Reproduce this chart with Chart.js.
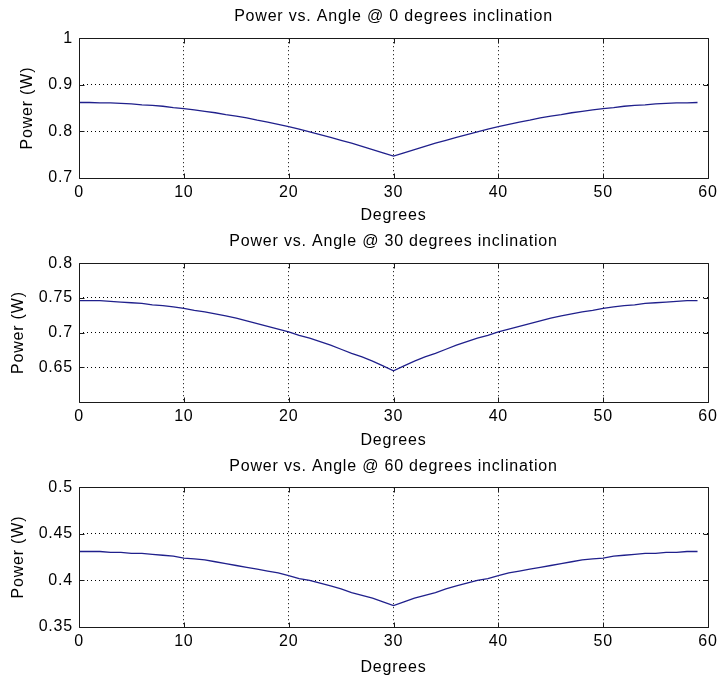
<!DOCTYPE html>
<html>
<head>
<meta charset="utf-8">
<script src="https://cdn.jsdelivr.net/npm/chart.js@4.4.1/dist/chart.umd.min.js"></script>
<style>
  html, body { margin: 0; padding: 0; background: #fff; }
  #wrap { position: relative; width: 717px; height: 677px; background: #fff; }
  canvas { position: absolute; left: 0; }
</style>
</head>
<body>
<div id="wrap">
  <canvas id="c1" width="717" height="225" style="top:0px"></canvas>
  <canvas id="c2" width="717" height="225" style="top:225px"></canvas>
  <canvas id="c3" width="717" height="227" style="top:450px"></canvas>
</div>
<script>
// angle in degrees
const degrees = [
  0, 1, 2, 3, 4, 5, 6, 7, 8, 9,
  10, 11, 12, 13, 14, 15, 16, 17, 18, 19,
  20, 21, 22, 23, 24, 25, 26, 27, 28, 29,
  30, 31, 32, 33, 34, 35, 36, 37, 38, 39,
  40, 41, 42, 43, 44, 45, 46, 47, 48, 49,
  50, 51, 52, 53, 54, 55, 56, 57, 58, 59
];

// power (W) at 0 degrees inclination
const power0 = [
  0.862, 0.862, 0.861, 0.861, 0.860, 0.859, 0.857, 0.856, 0.854, 0.851,
  0.849, 0.846, 0.843, 0.840, 0.836, 0.833, 0.829, 0.824, 0.820, 0.815,
  0.810, 0.805, 0.799, 0.793, 0.787, 0.781, 0.775, 0.768, 0.761, 0.754,
  0.747, 0.754, 0.761, 0.768, 0.775, 0.781, 0.787, 0.793, 0.799, 0.805,
  0.810, 0.815, 0.820, 0.824, 0.829, 0.833, 0.836, 0.840, 0.843, 0.846,
  0.849, 0.851, 0.854, 0.856, 0.857, 0.859, 0.860, 0.861, 0.861, 0.862
];

// power (W) at 30 degrees inclination
const power30 = [
  0.746, 0.746, 0.746, 0.745, 0.744, 0.743, 0.742, 0.740, 0.739, 0.737,
  0.735, 0.732, 0.730, 0.727, 0.724, 0.721, 0.717, 0.713, 0.709, 0.705,
  0.701, 0.696, 0.692, 0.687, 0.682, 0.676, 0.670, 0.665, 0.659, 0.652,
  0.645, 0.652, 0.659, 0.665, 0.670, 0.676, 0.682, 0.687, 0.692, 0.696,
  0.701, 0.705, 0.709, 0.713, 0.717, 0.721, 0.724, 0.727, 0.730, 0.732,
  0.735, 0.737, 0.739, 0.740, 0.742, 0.743, 0.744, 0.745, 0.746, 0.746
];

// power (W) at 60 degrees inclination
const power60 = [
  0.431, 0.431, 0.431, 0.430, 0.430, 0.429, 0.429, 0.428, 0.427, 0.426,
  0.424, 0.423, 0.422, 0.420, 0.418, 0.416, 0.414, 0.412, 0.410, 0.408,
  0.405, 0.402, 0.400, 0.397, 0.394, 0.391, 0.387, 0.384, 0.381, 0.377,
  0.373, 0.377, 0.381, 0.384, 0.387, 0.391, 0.394, 0.397, 0.400, 0.402,
  0.405, 0.408, 0.410, 0.412, 0.414, 0.416, 0.418, 0.420, 0.422, 0.423,
  0.424, 0.426, 0.427, 0.428, 0.429, 0.429, 0.430, 0.430, 0.431, 0.431
];

const xTicks = [0, 10, 20, 30, 40, 50, 60];
const yTicks0 = [0.7, 0.8, 0.9, 1];
const yTicks30 = [0.6, 0.65, 0.7, 0.75, 0.8];
const yTicks60 = [0.35, 0.4, 0.45, 0.5];

const FONT = "'Liberation Sans', Arial, sans-serif";
const LINE_COLOR = '#20208c';

// matlab look: spaced text, box round the axes, ticks pointing inward
const matlabLook = {
  id: 'matlabLook',
  beforeUpdate(chart) { chart.ctx.letterSpacing = '0.8px'; },
  beforeDraw(chart) {
    chart.ctx.letterSpacing = '0.8px';
    const ctx = chart.ctx;
    ctx.save();
    ctx.fillStyle = '#fff';
    ctx.fillRect(0, 0, chart.width, chart.height);
    ctx.restore();
  },
  afterDraw(chart) {
    const ctx = chart.ctx;
    const a = chart.chartArea;
    const L = Math.round(a.left) + 0.5, R = Math.round(a.right) + 0.5;
    const T = Math.round(a.top) + 0.5, B = Math.round(a.bottom) + 0.5;
    const len = 5;
    ctx.save();
    ctx.strokeStyle = '#1a1a1a';
    ctx.lineWidth = 1;
    ctx.beginPath();
    ctx.rect(L, T, R - L, B - T);
    const xs = chart.scales.x, ys = chart.scales.y;
    xs.ticks.forEach(t => {
      const px = Math.round(xs.getPixelForValue(t.value)) + 0.5;
      ctx.moveTo(px, B); ctx.lineTo(px, B - len);
      ctx.moveTo(px, T); ctx.lineTo(px, T + len);
    });
    ys.ticks.forEach(t => {
      const py = Math.round(ys.getPixelForValue(t.value)) + 0.5;
      ctx.moveTo(L, py); ctx.lineTo(L + len, py);
      ctx.moveTo(R, py); ctx.lineTo(R - len, py);
    });
    ctx.stroke();
    ctx.restore();
  }
};

function makePlot(canvasId, values, yTicks, titleText, opts) {
  const yMin = yTicks[0], yMax = yTicks[yTicks.length - 1];
  const hiddenLabel = opts.hideFirstLabel ? yMin : null;
  const gridColor = (ctx, lo, hi) => {
    const v = ctx.tick ? ctx.tick.value : null;
    if (v === null || Math.abs(v - lo) < 1e-9 || Math.abs(v - hi) < 1e-9) return 'rgba(0,0,0,0)';
    return '#000';
  };
  return new Chart(document.getElementById(canvasId), {
    type: 'line',
    data: {
      datasets: [{
        data: degrees.map((d, i) => ({ x: d, y: values[i] })),
        borderColor: LINE_COLOR,
        borderWidth: 1.3,
        pointRadius: 0,
        tension: 0,
        fill: false
      }]
    },
    options: {
      responsive: false,
      animation: false,
      layout: { padding: { left: 0, right: 9, top: 0, bottom: 0 } },
      plugins: {
        legend: { display: false },
        tooltip: { enabled: false },
        title: {
          display: true,
          text: titleText,
          fullSize: false,
          color: '#000',
          font: { family: FONT, size: 16, weight: 'normal' },
          padding: { top: 7, bottom: opts.titleGap }
        }
      },
      scales: {
        x: {
          type: 'linear',
          min: 0,
          max: 60,
          afterBuildTicks: s => { s.ticks = xTicks.map(v => ({ value: v })); },
          afterFit: s => { s.height = opts.xHeight; s.paddingLeft = 0; s.paddingRight = 0; },
          ticks: {
            color: '#000',
            font: { family: FONT, size: 16 },
            padding: 5,
            maxRotation: 0,
            callback: v => String(v)
          },
          grid: {
            drawTicks: false,
            lineWidth: 1,
            color: c => gridColor(c, 0, 60)
          },
          border: { display: false, dash: [1, 3] },
          title: {
            display: true,
            text: 'Degrees',
            color: '#000',
            font: { family: FONT, size: 16 },
            padding: 0
          }
        },
        y: {
          type: 'linear',
          min: yMin,
          max: yMax,
          afterBuildTicks: s => { s.ticks = yTicks.map(v => ({ value: v })); },
          afterFit: s => { s.width = 79; s.paddingTop = 0; s.paddingBottom = 0; },
          ticks: {
            color: '#000',
            font: { family: FONT, size: 16 },
            padding: 6,
            callback: v => (hiddenLabel !== null && Math.abs(v - hiddenLabel) < 1e-9) ? '' : String(parseFloat(v.toFixed(2)))
          },
          grid: {
            drawTicks: false,
            lineWidth: 1,
            color: c => gridColor(c, yMin, yMax)
          },
          border: { display: false, dash: [1, 3] },
          title: {
            display: true,
            text: 'Power (W)',
            color: '#000',
            font: { family: FONT, size: 16 },
            padding: { top: opts.yTitlePad, bottom: 0 }
          }
        }
      }
    },
    plugins: [matlabLook]
  });
}

makePlot('c1', power0, yTicks0, 'Power vs. Angle @ 0 degrees inclination',
  { titleGap: 12, xHeight: 47, yTitlePad: 18 });
makePlot('c2', power30, yTicks30, 'Power vs. Angle @ 30 degrees inclination',
  { titleGap: 12, xHeight: 48, yTitlePad: 9, hideFirstLabel: true });
makePlot('c3', power60, yTicks60, 'Power vs. Angle @ 60 degrees inclination',
  { titleGap: 11, xHeight: 50, yTitlePad: 9 });
</script>
</body>
</html>
